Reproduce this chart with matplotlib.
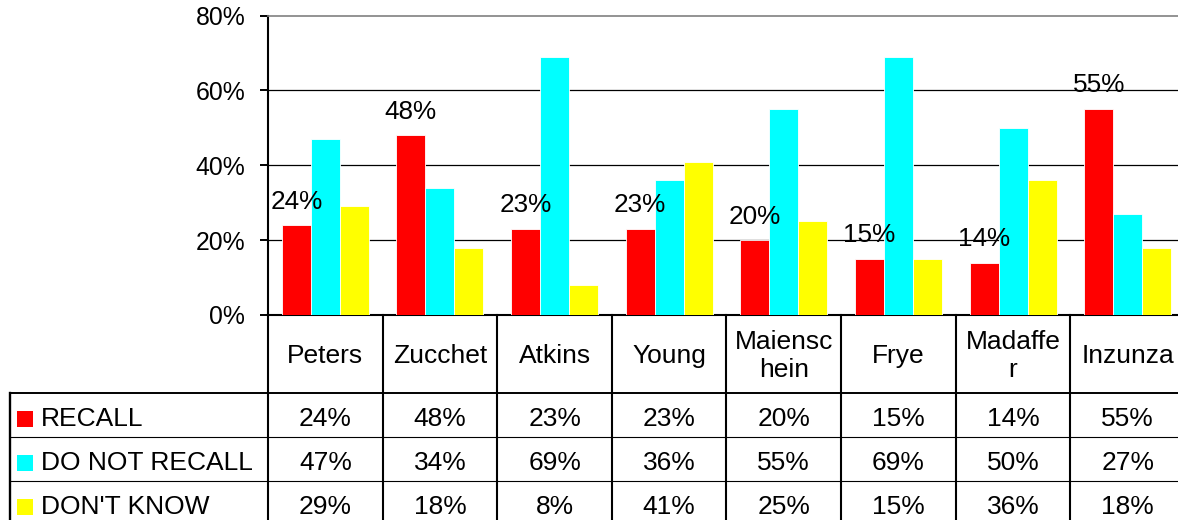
import matplotlib
matplotlib.use("Agg")
import matplotlib.pyplot as plt
from matplotlib.patches import Rectangle
from matplotlib.lines import Line2D

plt.rcParams['font.family'] = ['Liberation Sans', 'DejaVu Sans']

categories = ["Peters", "Zucchet", "Atkins", "Young", "Maiensc\nhein", "Frye", "Madaffe\nr", "Inzunza"]
series_names = ["RECALL", "DO NOT RECALL", "DON'T KNOW"]
recall = [24, 48, 23, 23, 20, 15, 14, 55]
do_not_recall = [47, 34, 69, 36, 55, 69, 50, 27]
dont_know = [29, 18, 8, 41, 25, 15, 36, 18]
colors = ["#FF0000", "#00FFFF", "#FFFF00"]
yticks = [0, 20, 40, 60, 80]

W, H = 1178, 520
fig = plt.figure(figsize=(W / 100, H / 100), dpi=100)
ax_left, ax_right, ax_top, ax_bot = 268, 1185, 15.5, 315
ax = fig.add_axes([ax_left / W, (H - ax_bot) / H, (ax_right - ax_left) / W, (ax_bot - ax_top) / H])

n = len(categories)
x = list(range(n))
bw = 0.253
series = [recall, do_not_recall, dont_know]
for k, (vals, c) in enumerate(zip(series, colors)):
    xs = [xi + (k - 1) * bw for xi in x]
    ax.bar(xs, vals, width=bw, color=c, edgecolor='white', linewidth=0.6, zorder=3)

# data labels for RECALL
for xi, v in zip(x, recall):
    ax.annotate(f"{v}%", (xi - bw, v), xytext=(0, 17), textcoords='offset points',
                ha='center', va='center', fontsize=18.8, zorder=5)

ax.set_xlim(-0.5, n - 0.5)
ax.set_ylim(0, 80)
ax.set_yticks(yticks)
ax.set_yticklabels([f"{v}%" for v in yticks], fontsize=17.8)
ax.tick_params(axis='y', direction='out', length=5.8, width=1.4, pad=10.5)
ax.set_xticks([])
for v in yticks[1:-1]:
    ax.axhline(v, color='black', linewidth=0.9, zorder=1)
ax.spines['left'].set_linewidth(1.5)
ax.spines['bottom'].set_linewidth(1.5)
ax.spines['top'].set_color('#808080')
ax.spines['top'].set_linewidth(1.2)
ax.spines['right'].set_visible(False)

# ---- data table below the plot ----
axh = ax_bot - ax_top
axw = ax_right - ax_left
def fy(ypx):
    return (ax_bot - ypx) / axh
def fx(xpx):
    return (xpx - ax_left) / axw

tr_data_y = ax.get_xaxis_transform()   # x data, y axes
tr_axes = ax.transAxes

row_edges = [315, 393.3, 436.8, 480.8, 525]
table_left = 10
bottom = fy(row_edges[-1])

# vertical lines at category boundaries
for i in range(n + 1):
    ax.add_line(Line2D([i - 0.5, i - 0.5], [0, bottom], transform=tr_data_y,
                       color='black', linewidth=1.5, clip_on=False))
# left border of label column
ax.add_line(Line2D([fx(table_left)] * 2, [fy(row_edges[1]), bottom], transform=tr_axes,
                   color='black', linewidth=1.7, clip_on=False))
# horizontal lines
for j, yp in enumerate(row_edges[1:-1]):
    lw = 1.4 if j == 0 else 0.8
    ax.add_line(Line2D([fx(table_left), 1.0], [fy(yp)] * 2, transform=tr_axes,
                       color='black', linewidth=lw, clip_on=False))

# header category names
hc = fy((row_edges[0] + row_edges[1]) / 2 + 2)
for xi, name in zip(x, categories):
    ax.text(xi, hc, name, transform=tr_data_y, ha='center', va='center',
            fontsize=19, linespacing=1.22, clip_on=False)

# data rows
for r, (name, vals, c) in enumerate(zip(series_names, series, colors)):
    yc_px = (row_edges[r + 1] + row_edges[r + 2]) / 2 + 4
    yc = fy(yc_px)
    for xi, v in zip(x, vals):
        ax.text(xi, yc, f"{v}%", transform=tr_data_y, ha='center', va='center',
                fontsize=19, clip_on=False)
    ax.add_patch(Rectangle((fx(17), fy(yc_px + 8)), fx(33) - fx(17), fy(yc_px - 8) - fy(yc_px + 8),
                           transform=tr_axes, facecolor=c, edgecolor='none', clip_on=False))
    ax.text(fx(40.5), yc, name, transform=tr_axes, ha='left', va='center',
            fontsize=19, clip_on=False)

fig.savefig("out.png", dpi=100)
